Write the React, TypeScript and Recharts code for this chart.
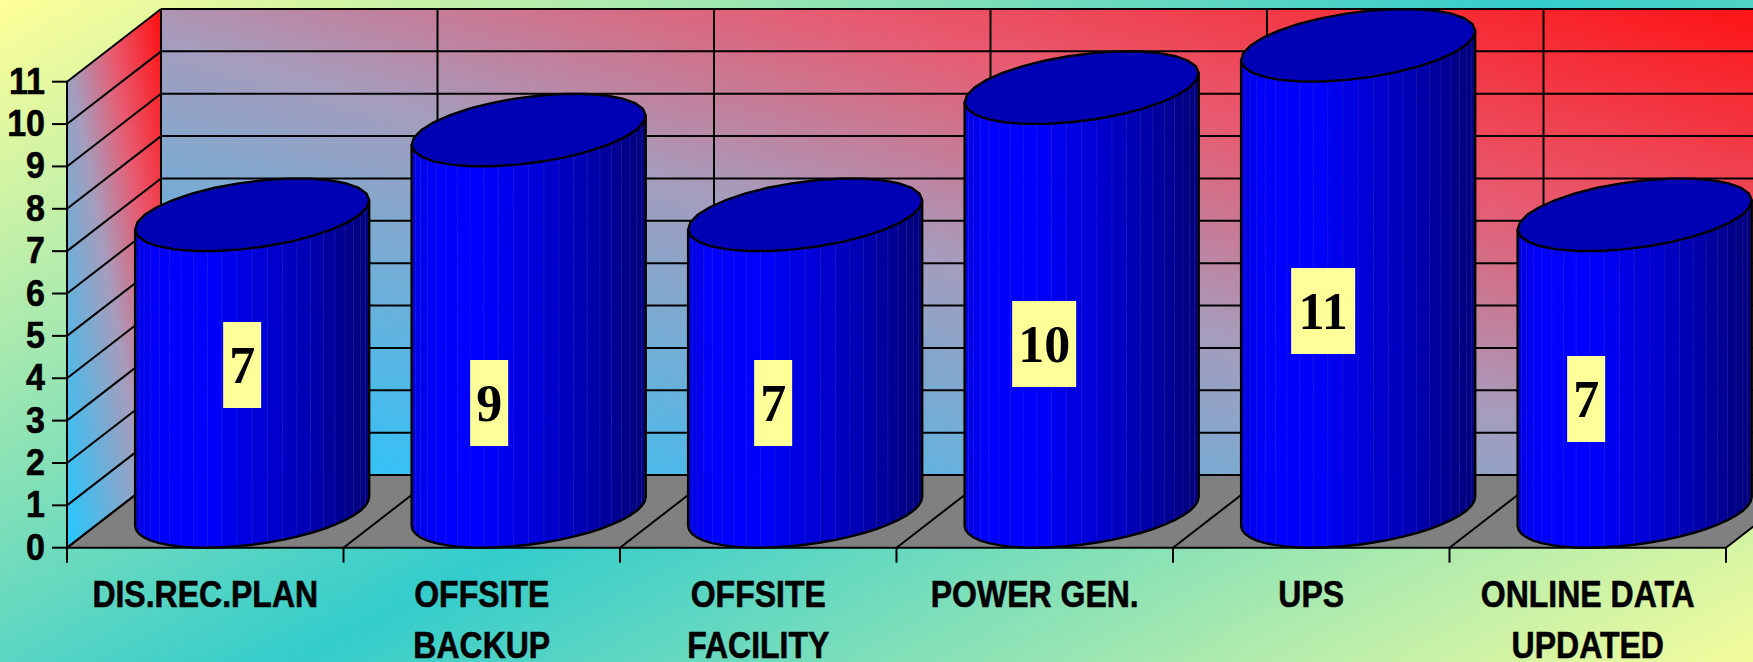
import React from "react";
import { BarChart, Bar, XAxis, YAxis, CartesianGrid, LabelList } from "recharts";

const categories = ["DIS.REC.PLAN", "OFFSITE BACKUP", "OFFSITE FACILITY", "POWER GEN.", "UPS", "ONLINE DATA UPDATED"];
const categoryLines = [["DIS.REC.PLAN"], ["OFFSITE", "BACKUP"], ["OFFSITE", "FACILITY"], ["POWER GEN."], ["UPS"], ["ONLINE DATA", "UPDATED"]];
const values = [7, 9, 7, 10, 11, 7];
const valueTicks = [0, 1, 2, 3, 4, 5, 6, 7, 8, 9, 10, 11];
const data = categories.map((name, i) => ({ name, value: values[i] }));

// Layout of the fake-3D box
const W = 1753, H = 662;
const LEFT = 67, RIGHT = 1726, BOTTOM = 547.7, TOP = 81.7;
const DX = 94, DY = 72.7;
const CELL = (RIGHT - LEFT) / categories.length;
// where the yellow value boxes sit relative to the category centre / base
const labelNudgeX = [37, 7.5, 15, 9.5, 12, -1.5];
const labelCentreY = [365, 403, 403, 344, 311, 399];

const RA = 107.4, RB = 46.5, RD = 36.35;
const ellipseAt = (cx: number, cy: number, t: number) => [cx + RA * Math.cos(t) + RB * Math.sin(t), cy - RD * Math.sin(t)];
const T_R = Math.atan2(RB, RA);
const FACETS = 24;

function sideColor(f: number) {
  // f: 0 left .. 1 right
  const stops = [[0, 224], [0.1, 255], [0.3, 255], [0.5, 222], [0.75, 176], [0.92, 136], [1, 120]];
  for (let i = 1; i < stops.length; i++) {
    if (f <= stops[i][0]) {
      const [a, b] = [stops[i - 1], stops[i]];
      const v = a[1] + ((b[1] - a[1]) * (f - a[0])) / (b[0] - a[0]);
      return `rgb(0,0,${Math.round(v)})`;
    }
  }
  return "rgb(0,0,120)";
}

function Cylinder(props: any) {
  const { x, y, width, height } = props;
  const cx = x + width / 2 + DX / 2;
  const baseY = y + height - DY / 2;
  const topY = y - DY / 2;
  const facets = [];
  const bottomPts: number[][] = [];
  for (let i = 0; i <= FACETS; i++) {
    const t = T_R + Math.PI + (Math.PI * i) / FACETS;
    bottomPts.push(ellipseAt(cx, baseY, t));
  }
  const span = 2 * Math.sqrt(RA * RA + RB * RB);
  for (let i = 0; i < FACETS; i++) {
    const [x0, y0] = bottomPts[i];
    const [x1, y1] = bottomPts[i + 1];
    const f = ((x0 + x1) / 2 - (cx - span / 2)) / span;
    const c = sideColor(f);
    facets.push(
      <polygon key={i} points={`${x0},${y0} ${x1},${y1} ${x1},${y1 - height} ${x0},${y0 - height}`} fill={c} stroke={c} strokeWidth={0.5} />
    );
    if (i > 0) {
      facets.push(<line key={`l${i}`} x1={x0} y1={y0} x2={x0} y2={y0 - height} stroke="#4a3fd8" strokeOpacity={0.25} strokeWidth={1} />);
    }
  }
  const topPts: string[] = [];
  for (let i = 0; i < 30; i++) {
    const p = ellipseAt(cx, topY, (2 * Math.PI * i) / 30);
    topPts.push(`${p[0]},${p[1]}`);
  }
  const first = bottomPts[0];
  const last = bottomPts[FACETS];
  const outline = bottomPts.map((p) => `${p[0]},${p[1]}`).join(" ");
  return (
    <g>
      {facets}
      <polyline
        points={`${first[0]},${first[1] - height} ${outline} ${last[0]},${last[1] - height}`}
        fill="none"
        stroke="#000"
        strokeWidth={2.4}
      />
      <polygon points={topPts.join(" ")} fill="#0000b4" stroke="#000" strokeWidth={2.4} />
    </g>
  );
}

function ValueBox(props: any) {
  const { x, width, value, index } = props;
  const text = String(value);
  const bw = text.length > 1 ? 64 : 38;
  const cx = x + width / 2 + labelNudgeX[index];
  const cy = labelCentreY[index];
  return (
    <g>
      <rect x={cx - bw / 2} y={cy - 43} width={bw} height={86} fill="#ffff99" />
      <text
        transform={`translate(${cx},${cy + 18})`}
        textAnchor="middle"
        fontFamily="'Liberation Serif', serif"
        fontWeight="bold"
        fontSize={52}
        fill="#000"
      >
        {text}
      </text>
    </g>
  );
}

function XTick(props: any) {
  const { x, index } = props;
  const lines = categoryLines[index] || [];
  const edge = x - CELL / 2;
  return (
    <g>
      <line x1={edge} y1={BOTTOM} x2={edge} y2={BOTTOM + 15} stroke="#000" strokeWidth={2} />
      {index === categories.length - 1 && (
        <line x1={edge + CELL} y1={BOTTOM} x2={edge + CELL} y2={BOTTOM + 15} stroke="#000" strokeWidth={2} />
      )}
      {lines.map((l: string, i: number) => (
        <text
          key={i}
          transform={`translate(${x},${607 + i * 51}) scale(0.865,1)`}
          textAnchor="middle"
          fontFamily="'Liberation Sans', Arial, sans-serif"
          fontWeight="bold"
          fontSize={37}
          fill="#000"
          stroke="#000"
          strokeWidth={0.6}
        >
          {l}
        </text>
      ))}
    </g>
  );
}

function YTick(props: any) {
  const { y, payload } = props;
  return (
    <g>
      <line x1={LEFT - 15} y1={y} x2={LEFT} y2={y} stroke="#000" strokeWidth={2} />
      <text
        transform={`translate(45,${y + 12}) scale(0.92,1)`}
        textAnchor="end"
        fontFamily="'Liberation Sans', Arial, sans-serif"
        fontWeight="bold"
        fontSize={37}
        fill="#000"
        stroke="#000"
        strokeWidth={0.6}
      >
        {payload.value}
      </text>
    </g>
  );
}

// Grid lines travel along the left wall, then across the back wall
function HLine(p: any) {
  return (
    <g key={`h${p.index}`}>
      <line x1={LEFT} y1={p.y1} x2={LEFT + DX} y2={p.y1 - DY} stroke="#000" strokeWidth={2} />
      <line x1={LEFT + DX} y1={p.y1 - DY} x2={RIGHT + DX} y2={p.y1 - DY} stroke="#000" strokeWidth={2} />
    </g>
  );
}

function VLine(p: any) {
  // the grid hands over category centres and also the plot's two ends; only centres are used
  const offset = (p.x1 - LEFT) / CELL;
  const isCentre = Math.abs(offset - Math.floor(offset) - 0.5) < 0.01;
  if (!isCentre) return <g key={`v${p.index}`} />;
  const edges = [p.x1 - CELL / 2];
  if (p.x1 + CELL / 2 > RIGHT - 1) edges.push(p.x1 + CELL / 2);
  return (
    <g key={`v${p.index}`}>
      {edges.map((e, i) => (
        <g key={i}>
          <line x1={e} y1={BOTTOM} x2={e + DX} y2={BOTTOM - DY} stroke="#000" strokeWidth={2} />
          <line x1={e + DX} y1={BOTTOM - DY} x2={e + DX} y2={TOP - DY} stroke="#000" strokeWidth={2} />
        </g>
      ))}
    </g>
  );
}

function Backdrop() {
  return (
    <svg width={W} height={H} style={{ position: "absolute", left: 0, top: 0 }}>
      <defs>
        <linearGradient id="page" gradientUnits="userSpaceOnUse" x1={0} y1={0} x2={678} y2={1276}>
          <stop offset="0" stopColor="#ffff99" />
          <stop offset="0.5" stopColor="#33cccc" />
          <stop offset="1" stopColor="#ffff99" />
        </linearGradient>
        <linearGradient id="wall" x1="0" y1="1" x2="1" y2="0">
          <stop offset="0" stopColor="#22c8ff" />
          <stop offset="0.47" stopColor="#a69cbc" />
          <stop offset="0.7" stopColor="#e85a70" />
          <stop offset="1" stopColor="#ff0f0f" />
        </linearGradient>
      </defs>
      <rect x={0} y={0} width={W} height={H} fill="url(#page)" />
      <rect x={LEFT + DX} y={TOP - DY} width={RIGHT - LEFT} height={BOTTOM - TOP} fill="url(#wall)" />
      <polygon
        points={`${LEFT},${BOTTOM} ${LEFT + DX},${BOTTOM - DY} ${LEFT + DX},${TOP - DY} ${LEFT},${TOP}`}
        fill="url(#wall)"
      />
      <polygon
        points={`${LEFT},${BOTTOM} ${LEFT + DX},${BOTTOM - DY} ${RIGHT + DX},${BOTTOM - DY} ${RIGHT},${BOTTOM}`}
        fill="#808080"
      />
    </svg>
  );
}

export default function App() {
  return (
    <div style={{ position: "fixed", left: 0, top: 0, width: W, height: H, overflow: "hidden" }}>
      <Backdrop />
      <div style={{ position: "absolute", left: 0, top: 0 }}>
        <BarChart
          width={W}
          height={H}
          data={data}
          margin={{ top: TOP, right: W - RIGHT, bottom: 0, left: 0 }}
          barCategoryGap="22.3%"
          style={{ overflow: "visible" }}
        >
          <CartesianGrid horizontal={HLine} vertical={VLine} />
          <XAxis
            dataKey="name"
            height={H - BOTTOM}
            tick={XTick}
            tickLine={false}
            axisLine={{ stroke: "#000", strokeWidth: 2 }}
            interval={0}
          />
          <YAxis
            width={LEFT}
            domain={[0, 11]}
            ticks={valueTicks}
            tick={YTick}
            tickLine={false}
            axisLine={{ stroke: "#000", strokeWidth: 2 }}
            interval={0}
          />
          <Bar dataKey="value" isAnimationActive={false} shape={Cylinder}>
            <LabelList dataKey="value" content={ValueBox} />
          </Bar>
        </BarChart>
      </div>
    </div>
  );
}
